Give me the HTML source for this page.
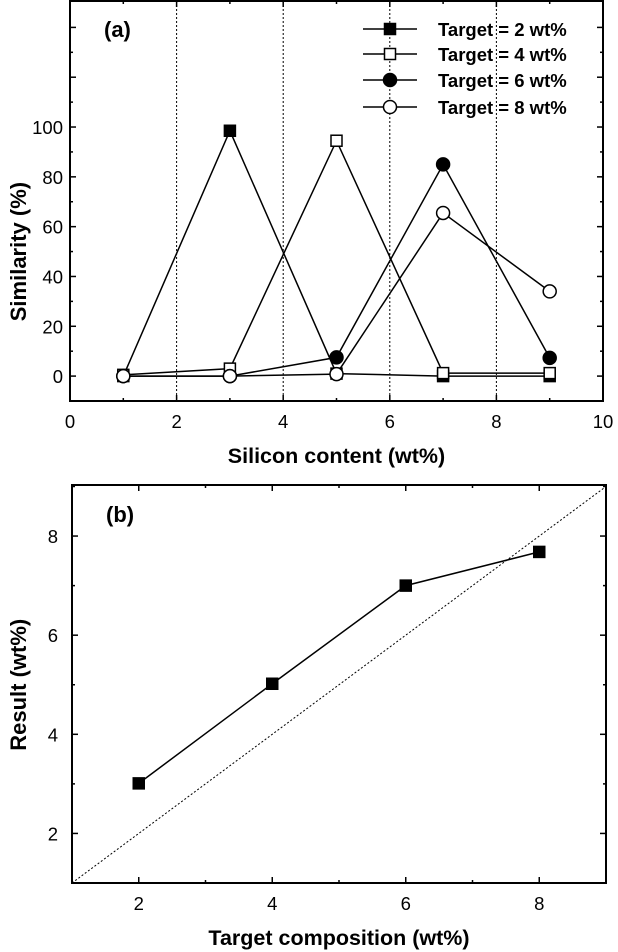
<!DOCTYPE html>
<html><head><meta charset="utf-8"><style>
html,body{margin:0;padding:0;background:#fff;}
svg{display:block;font-family:"Liberation Sans",Arial,sans-serif;}
</style></head><body>
<svg id="chart" width="618" height="952" viewBox="0 0 618 952">
<g id="pa"></g>
<g id="pb"></g>
</svg>
<script>
// Panel (a) data
const aX = [1, 3, 5, 7, 9];
const aSeriesNames = ["Target = 2 wt%", "Target = 4 wt%", "Target = 6 wt%", "Target = 8 wt%"];
const aT2 = [0, 98.5, 1, 0, 0];
const aT4 = [0.5, 3, 94.5, 1.2, 1.2];
const aT6 = [0, 0, 7.5, 85, 7.3];
const aT8 = [0, 0, 0.8, 65.5, 34];
const aXTicks = [0, 2, 4, 6, 8, 10];
const aYTicks = [0, 20, 40, 60, 80, 100];
const aGrid = [2, 4, 6, 8];
// Panel (b) data
const bX = [2, 4, 6, 8];
const bY = [3.01, 5.02, 7.0, 7.68];
const bXTicks = [2, 4, 6, 8];
const bYTicks = [2, 4, 6, 8];

const NS = "http://www.w3.org/2000/svg";
function mk(parent, tag, attrs, name, text) {
  const e = document.createElementNS(NS, tag);
  for (const k in attrs) e.setAttribute(k, attrs[k]);
  
  
  if (text !== undefined) e.textContent = text;
  parent.appendChild(e);
  return e;
}
function marker(g, type, x, y, name) {
  const fill = (type === 'fs' || type === 'fc') ? '#000' : '#fff';
  if (type === 'fs' || type === 'os') {
    mk(g, 'rect', {x: x - 5.5, y: y - 5.5, width: 11, height: 11, fill: fill, stroke: '#000', 'stroke-width': 1.5}, name);
  } else {
    mk(g, 'circle', {cx: x, cy: y, r: 6.5, fill: fill, stroke: '#000', 'stroke-width': 1.5}, name);
  }
}

// ---------- Panel A ----------
(function () {
  const g = document.getElementById('pa');
  const L = 70, R = 603, T = 1, B = 401;
  const xmin = 0, xmax = 10, ymin = -10, ymax = 150.6;
  const sx = v => L + (v - xmin) / (xmax - xmin) * (R - L);
  const sy = v => B - (v - ymin) / (ymax - ymin) * (B - T);
  aGrid.forEach(v => mk(g, 'line', {x1: sx(v), x2: sx(v), y1: T, y2: B, stroke: '#000', 'stroke-width': 1, 'stroke-dasharray': '2,2'}, 'grid-line-x' + v));
  mk(g, 'rect', {x: L, y: T, width: R - L, height: B - T, fill: 'none', stroke: '#000', 'stroke-width': 2}, 'plot-frame-a');
  for (let v = 0; v <= 10; v += 1) {
    const len = v % 2 === 0 ? 6 : 3;
    mk(g, 'line', {x1: sx(v), x2: sx(v), y1: B, y2: B - len, stroke: '#000', 'stroke-width': 1.5}, 'x-tick');
    mk(g, 'line', {x1: sx(v), x2: sx(v), y1: T, y2: T + len, stroke: '#000', 'stroke-width': 1.5}, 'x-tick-top');
  }
  for (let v = 0; v <= 140; v += 10) {
    const len = v % 20 === 0 ? 6 : 3;
    mk(g, 'line', {x1: L, x2: L + len, y1: sy(v), y2: sy(v), stroke: '#000', 'stroke-width': 1.5}, 'y-tick');
    mk(g, 'line', {x1: R, x2: R - len, y1: sy(v), y2: sy(v), stroke: '#000', 'stroke-width': 1.5}, 'y-tick-right');
  }
  aXTicks.forEach(v => mk(g, 'text', {x: sx(v), y: B + 27, 'text-anchor': 'middle', 'font-size': 18.5}, 'x-tick-label', String(v)));
  aYTicks.forEach(v => mk(g, 'text', {x: L - 7, y: sy(v) + 7, 'text-anchor': 'end', 'font-size': 18.5}, 'y-tick-label', String(v)));
  mk(g, 'text', {x: sx(5), y: 463, 'text-anchor': 'middle', 'font-size': 21.5, 'font-weight': 'bold'}, 'x-axis-title', 'Silicon content (wt%)');
  mk(g, 'text', {x: 0, y: 0, 'text-anchor': 'middle', 'font-size': 22, 'font-weight': 'bold', transform: 'translate(26,' + sy(50) + ') rotate(-90)'}, 'y-axis-title', 'Similarity (%)');
  mk(g, 'text', {x: 104, y: 37, 'font-size': 22, 'font-weight': 'bold'}, 'panel-label-a', '(a)');
  const series = [[aT2, 'fs'], [aT4, 'os'], [aT6, 'fc'], [aT8, 'oc']];
  series.forEach(([ys, t], i) => {
    const pts = aX.map((x, j) => sx(x) + ',' + sy(ys[j])).join(' ');
    mk(g, 'polyline', {points: pts, fill: 'none', stroke: '#000', 'stroke-width': 1.5}, 'series-line-' + (i + 1));
  });
  series.forEach(([ys, t], i) => aX.forEach((x, j) => marker(g, t, sx(x), sy(ys[j]), 'point-s' + (i + 1) + '-' + x)));
  // legend
  const ly = [29, 54, 80, 107];
  series.forEach(([ys, t], i) => {
    mk(g, 'line', {x1: 363, x2: 417, y1: ly[i], y2: ly[i], stroke: '#000', 'stroke-width': 1.5}, 'legend-line');
    marker(g, t, 390, ly[i], 'legend-marker');
    mk(g, 'text', {x: 438, y: ly[i] + 7, 'font-size': 18.5, 'font-weight': 'bold'}, 'legend-entry', aSeriesNames[i]);
  });
})();

// ---------- Panel B ----------
(function () {
  const g = document.getElementById('pb');
  const L = 72, R = 606, T = 485, B = 883;
  const xmin = 1, xmax = 9, ymin = 1, ymax = 9.03;
  const sx = v => L + (v - xmin) / (xmax - xmin) * (R - L);
  const sy = v => B - (v - ymin) / (ymax - ymin) * (B - T);
  mk(g, 'line', {x1: sx(1), y1: sy(1), x2: sx(9), y2: sy(9), stroke: '#000', 'stroke-width': 1, 'stroke-dasharray': '2,2'}, 'identity-line');
  mk(g, 'rect', {x: L, y: T, width: R - L, height: B - T, fill: 'none', stroke: '#000', 'stroke-width': 2}, 'plot-frame-b');
  for (let v = 1; v <= 9; v += 1) {
    const len = v % 2 === 0 ? 6 : 3;
    mk(g, 'line', {x1: sx(v), x2: sx(v), y1: B, y2: B - len, stroke: '#000', 'stroke-width': 1.5}, 'x-tick');
    mk(g, 'line', {x1: sx(v), x2: sx(v), y1: T, y2: T + len, stroke: '#000', 'stroke-width': 1.5}, 'x-tick-top');
    mk(g, 'line', {x1: L, x2: L + len, y1: sy(v), y2: sy(v), stroke: '#000', 'stroke-width': 1.5}, 'y-tick');
    mk(g, 'line', {x1: R, x2: R - len, y1: sy(v), y2: sy(v), stroke: '#000', 'stroke-width': 1.5}, 'y-tick-right');
  }
  bXTicks.forEach(v => mk(g, 'text', {x: sx(v), y: B + 27, 'text-anchor': 'middle', 'font-size': 18.5}, 'x-tick-label', String(v)));
  bYTicks.forEach(v => mk(g, 'text', {x: L - 14, y: sy(v) + 7, 'text-anchor': 'end', 'font-size': 18.5}, 'y-tick-label', String(v)));
  mk(g, 'text', {x: sx(5), y: 945, 'text-anchor': 'middle', 'font-size': 21.5, 'font-weight': 'bold'}, 'x-axis-title', 'Target composition (wt%)');
  mk(g, 'text', {x: 0, y: 0, 'text-anchor': 'middle', 'font-size': 22, 'font-weight': 'bold', transform: 'translate(26,' + sy(5) + ') rotate(-90)'}, 'y-axis-title', 'Result (wt%)');
  mk(g, 'text', {x: 106, y: 522, 'font-size': 22, 'font-weight': 'bold'}, 'panel-label-b', '(b)');
  const pts = bX.map((x, j) => sx(x) + ',' + sy(bY[j])).join(' ');
  mk(g, 'polyline', {points: pts, fill: 'none', stroke: '#000', 'stroke-width': 1.5}, 'result-line');
  bX.forEach((x, j) => marker(g, 'fs', sx(x), sy(bY[j]), 'result-point-' + x));
})();
</script>
</body></html>
